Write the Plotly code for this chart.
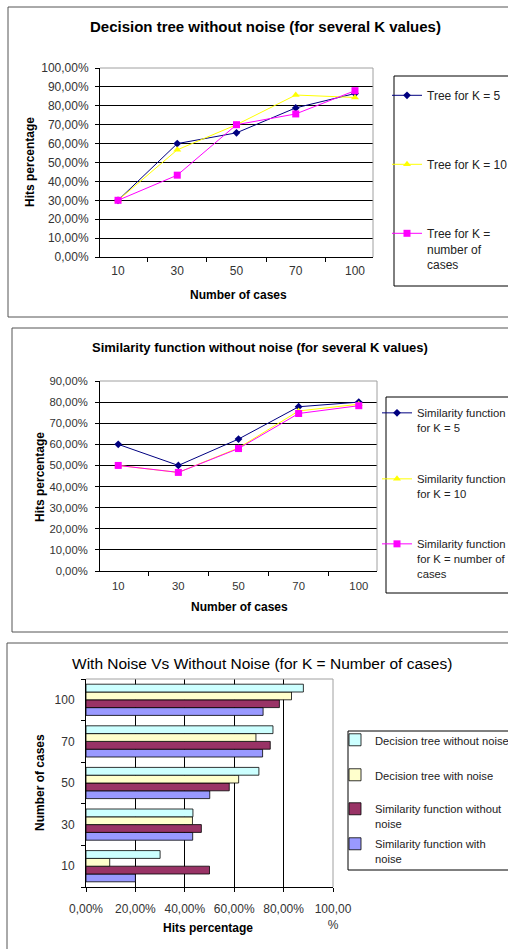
import plotly.graph_objects as go

W, H = 508, 949

cases = ["10", "30", "50", "70", "100"]

# Decision tree without noise, hits percentage per K
tree_k5 = [30.0, 60.0, 65.7, 78.9, 86.5]
tree_k10 = [30.0, 56.7, 70.0, 85.7, 84.4]
tree_kn = [30.0, 43.3, 70.0, 75.7, 88.0]

# Similarity function without noise, hits percentage per K
sim_k5 = [60.0, 50.0, 62.5, 77.8, 80.0]
sim_k10 = [50.0, 46.7, 58.3, 75.8, 79.0]
sim_kn = [50.0, 46.7, 58.0, 74.6, 78.3]

# With noise (K = number of cases)
tree_noise = [9.6, 43.1, 61.8, 68.8, 83.2]
sim_noise = [20.0, 43.2, 50.1, 71.5, 71.7]

pct_ticks = [0, 20, 40, 60, 80, 100]
pct_labels = ["0,00%", "20,00%", "40,00%", "60,00%", "80,00%", "100,00<br>%"]

FONT = "Liberation Sans, Arial, sans-serif"
NAVY, YEL, MAG = "#000080", "#ffff00", "#ff00ff"


def fx(p):
    return p / W


def fy(p):
    return 1 - p / H


fig = go.Figure()

# ---- panel 1: decision tree lines
line_specs = [
    ("Tree for K = 5", tree_k5, NAVY, "diamond", 6, "legend"),
    ("Tree for K = 10", tree_k10, YEL, "triangle-up", 7, "legend2"),
    ("Tree for K =<br>number of<br>cases", tree_kn, MAG, "square", 7, "legend3"),
]
for name, vals, col, sym, sz, lg in line_specs:
    fig.add_trace(go.Scatter(
        x=cases, y=vals, name=name, mode="lines+markers",
        line=dict(color=col, width=1),
        marker=dict(symbol=sym, size=sz, color=col),
        xaxis="x", yaxis="y", legend=lg))

# ---- panel 2: similarity function lines
line_specs2 = [
    ("Similarity function<br>for K = 5", sim_k5, NAVY, "diamond", 6, "legend4"),
    ("Similarity function<br>for K = 10", sim_k10, YEL, "triangle-up", 7, "legend5"),
    ("Similarity function<br>for K = number of<br>cases", sim_kn, MAG, "square", 7, "legend6"),
]
for name, vals, col, sym, sz, lg in line_specs2:
    fig.add_trace(go.Scatter(
        x=cases, y=vals, name=name, mode="lines+markers",
        line=dict(color=col, width=1),
        marker=dict(symbol=sym, size=sz, color=col),
        xaxis="x2", yaxis="y2", legend=lg))

# ---- panel 3: horizontal grouped bars (first trace sits lowest in each group)
bar_specs = [
    ("Similarity function with<br>noise", sim_noise, "#9999ff", "legend10"),
    ("Similarity function without<br>noise", sim_kn, "#993366", "legend9"),
    ("Decision tree with noise", tree_noise, "#ffffcc", "legend8"),
    ("Decision tree without noise", tree_kn, "#ccffff", "legend7"),
]
for name, vals, col, lg in bar_specs:
    fig.add_trace(go.Bar(
        y=cases, x=vals, name=name, orientation="h",
        marker=dict(color=col, line=dict(color="#000000", width=0.8)),
        xaxis="x3", yaxis="y3", legend=lg))

tick_font = dict(family=FONT, size=12, color="#333333")
tick_font_s = dict(family=FONT, size=11.3, color="#333333")
title_font = dict(family=FONT, size=12, color="#000000")

cat_x = dict(type="category", categoryorder="array", categoryarray=cases,
             tickson="boundaries", ticks="outside", ticklen=4, tickcolor="#000",
             showline=True, linecolor="#000", linewidth=1, showgrid=False,
             tickfont=tick_font)
pct_y = dict(tickformat=".2f", ticksuffix="%", showgrid=True, gridcolor="#000",
             gridwidth=1, ticks="outside", ticklen=4, tickcolor="#000",
             showline=True, linecolor="#000", linewidth=1, zeroline=False,
             tickfont=tick_font, ticklabelstandoff=4)

legend_common = dict(bgcolor="rgba(0,0,0,0)", borderwidth=0, valign="top",
                     xanchor="left", yanchor="top", itemclick=False)

legends = {}
leg_pos = {
    "legend": (387, 81, 12), "legend2": (387, 150, 12), "legend3": (387, 219, 12),
    "legend4": (377, 399, 11.3), "legend5": (377, 465, 11.3), "legend6": (377, 530, 11.3),
    "legend7": (335, 726, 11.2), "legend8": (335, 761, 11.2), "legend9": (335, 795, 11.2),
    "legend10": (335, 830, 11.2),
}
for key, (px, py, fs) in leg_pos.items():
    legends[key] = dict(legend_common, x=fx(px), y=fy(py),
                        font=dict(family=FONT, size=fs, color="#222222"))

shapes = []
# chart frames and legend boxes
for x0, y0, x1, y1 in [(8, 7, 530, 317), (12, 328, 530, 632), (7, 643, 530, 970)]:
    shapes.append(dict(type="rect", xref="paper", yref="paper", layer="below",
                       x0=fx(x0), x1=fx(x1), y0=fy(y1), y1=fy(y0),
                       line=dict(color="#555555", width=1), fillcolor="white"))
for x0, y0, x1, y1 in [(394, 76, 530, 286), (386, 397, 530, 593), (348, 731, 530, 870)]:
    shapes.append(dict(type="rect", xref="paper", yref="paper", layer="above",
                       x0=fx(x0), x1=fx(x1), y0=fy(y1), y1=fy(y0),
                       line=dict(color="#000000", width=1), fillcolor="rgba(0,0,0,0)"))
# light top and right edges of each plot area
for xa, ya in [("x", "y"), ("x2", "y2"), ("x3", "y3")]:
    shapes.append(dict(type="path", xref=f"{xa} domain", yref=f"{ya} domain", layer="above",
                       path="M0,1 L1,1 L1,0", line=dict(color="#a0a0a0", width=1)))

annotations = [
    dict(text="<b>Decision tree without noise (for several K values)</b>", x=fx(265), y=fy(27),
         font=dict(family=FONT, size=15, color="#000")),
    dict(text="<b>Hits percentage</b>", x=fx(30), y=fy(162), textangle=-90, font=title_font),
    dict(text="<b>Number of cases</b>", x=fx(238), y=fy(295), font=title_font),
    dict(text="<b>Similarity function without noise (for several K values)</b>", x=fx(260), y=fy(347),
         font=dict(family=FONT, size=13, color="#000")),
    dict(text="<b>Hits percentage</b>", x=fx(40), y=fy(477), textangle=-90, font=title_font),
    dict(text="<b>Number of cases</b>", x=fx(239), y=fy(607), font=title_font),
    dict(text="With Noise Vs Without Noise (for K = Number of cases)", x=fx(262), y=fy(663),
         font=dict(family=FONT, size=15.5, color="#000")),
    dict(text="<b>Number of cases</b>", x=fx(40), y=fy(783), textangle=-90, font=title_font),
    dict(text="<b>Hits percentage</b>", x=fx(208), y=fy(928), font=title_font),
]
for a in annotations:
    a.update(xref="paper", yref="paper", showarrow=False, xanchor="center", yanchor="middle")

fig.update_layout(
    width=W, height=H, autosize=False,
    margin=dict(l=0, r=0, t=0, b=0, autoexpand=False),
    showlegend=True,
    paper_bgcolor="white", plot_bgcolor="#c0c0c0",
    separators=",.",
    font=dict(family=FONT),
    barmode="group", bargap=0.25, bargroupgap=0,
    xaxis=dict(cat_x, domain=[fx(100), fx(373)], anchor="y", ticklabelstandoff=3),
    yaxis=dict(pct_y, domain=[fy(257), fy(68)], anchor="x", range=[0, 100], dtick=10),
    xaxis2=dict(cat_x, domain=[fx(100), fx(377)], anchor="y2", ticklabelstandoff=4,
                tickfont=tick_font_s),
    yaxis2=dict(pct_y, domain=[fy(571), fy(381)], anchor="x2", range=[0, 90], dtick=10,
                tickfont=tick_font_s, ticklabelstandoff=5),
    xaxis3=dict(domain=[fx(86), fx(333)], anchor="y3", range=[0, 100],
                tickvals=pct_ticks, ticktext=pct_labels, showgrid=True, gridcolor="#000",
                ticks="outside", ticklen=4, tickcolor="#000", showline=True,
                linecolor="#000", zeroline=False, tickfont=tick_font,
                ticklabelstandoff=7),
    yaxis3=dict(cat_x, domain=[fy(887), fy(679)], anchor="x3", ticklabelstandoff=8),
    shapes=shapes,
    annotations=annotations,
    **legends,
)

fig.write_html("out.html")
